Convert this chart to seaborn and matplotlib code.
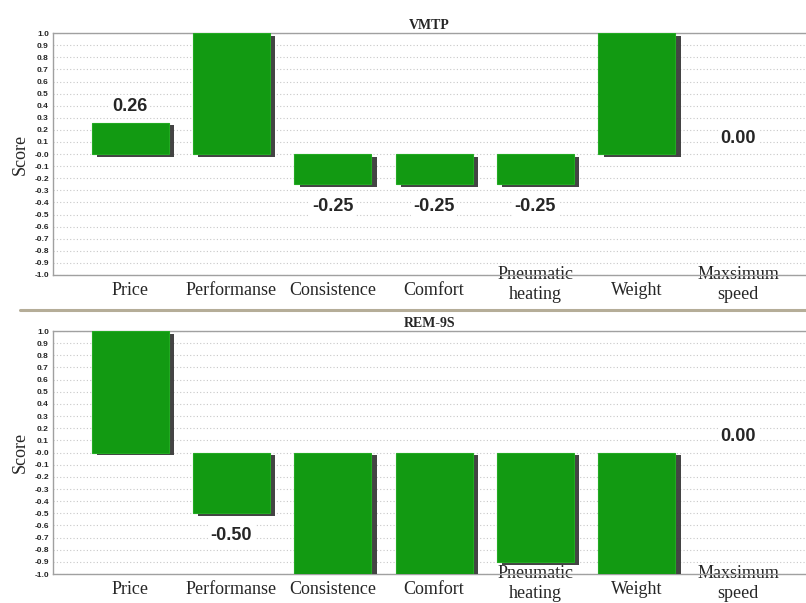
import numpy as np
import pandas as pd
import matplotlib
matplotlib.use("Agg")
import matplotlib.pyplot as plt
import matplotlib.patheffects as pe
from matplotlib.lines import Line2D
from matplotlib.transforms import ScaledTranslation
import seaborn as sns

# criteria and scores
criteria = ["Price", "Performanse", "Consistence", "Comfort",
            "Pneumatic\nheating", "Weight", "Maxsimum\nspeed"]
vmtp_scores = [0.26, 1.0, -0.25, -0.25, -0.25, 1.0, 0.0]
rem9s_scores = [1.0, -0.5, -1.0, -1.0, -0.9, -1.0, 0.0]
panel_titles = ["VMTP", "REM-9S"]
yticks = np.round(np.arange(-1.0, 1.01, 0.1), 1)

BAR_GREEN = "#129a12"

sns.set_style("white")
plt.rcParams["font.family"] = ["Liberation Serif", "DejaVu Serif"]

fig = plt.figure(figsize=(8.06, 6.03), dpi=100)
ax_top = fig.add_axes([0.0658, 0.544, 0.9342, 0.401])
ax_bot = fig.add_axes([0.0658, 0.048, 0.9342, 0.403])


def draw_panel(ax, scores, title):
    df = pd.DataFrame({"criterion": criteria, "score": scores})
    sns.barplot(data=df, x="criterion", y="score", color=BAR_GREEN,
                saturation=1, width=0.76, ax=ax, zorder=3,
                edgecolor="#22aa22", linewidth=0.8)
    for bar in ax.patches:
        if bar.get_height() == 0:
            # empty bar: nothing visible in the reference
            bar.set_linewidth(0)
            continue
        bar.set_path_effects([pe.SimplePatchShadow(offset=(4, -2), shadow_rgbFace="#3a3a3a", alpha=0.95),
                              pe.Normal()])
    # value labels only on the bars that are not full height
    for i, v in enumerate(scores):
        if abs(v) < 0.75:
            off = 11.5 if v >= 0 else -16
            ax.annotate(f"{v:.2f}", (i, v), xytext=(0, off), textcoords="offset points",
                        ha="center", va="center", fontsize=13, fontweight="bold",
                        family="Liberation Sans", zorder=6,
                        bbox=dict(boxstyle="square,pad=0.15", fc="white", ec="none"))
    ax.set_ylim(-1.0, 1.0)
    ax.set_xlim(-0.76, 6.67)
    ax.set_yticks(yticks)
    ax.set_yticklabels([f"{t:.1f}" for t in yticks], fontsize=6, fontweight="bold",
                       family="Liberation Sans")
    ax.tick_params(axis="y", length=0, pad=3)
    ax.tick_params(axis="x", length=0, pad=11)
    ax.set_xticks(range(len(criteria)))
    ax.set_xticklabels(criteria, fontsize=13, va="center", linespacing=1.2)
    for lab in ax.get_xticklabels():
        lab.set_bbox(dict(boxstyle="square,pad=0.05", fc="white", ec="none"))
        if "\n" in lab.get_text():
            # two-line labels sit a little higher than the single-line ones
            lab.set_transform(lab.get_transform() + ScaledTranslation(0, 6 / 100, fig.dpi_scale_trans))
    ax.xaxis.set_zorder(5)
    ax.set_xlabel("")
    ax.set_ylabel("Score", fontsize=13, labelpad=4)
    ax.yaxis.grid(True, linestyle=(0, (1, 2)), color="#c8c8c8", linewidth=0.8, zorder=0)
    ax.set_axisbelow(True)
    for side in ["left", "bottom", "top"]:
        ax.spines[side].set_color("#a0a0a0")
        ax.spines[side].set_linewidth(1.0)
    ax.spines["right"].set_visible(False)
    ax.set_title(title, fontsize=10, fontweight="bold", pad=3)


draw_panel(ax_top, vmtp_scores, panel_titles[0])
draw_panel(ax_bot, rem9s_scores, panel_titles[1])

# separator between the two panels
fig.add_artist(Line2D([0.025, 1.0], [0.486, 0.486], transform=fig.transFigure,
                      color="#b5ad98", linewidth=2.2))

fig.savefig("out.png", dpi=100)
